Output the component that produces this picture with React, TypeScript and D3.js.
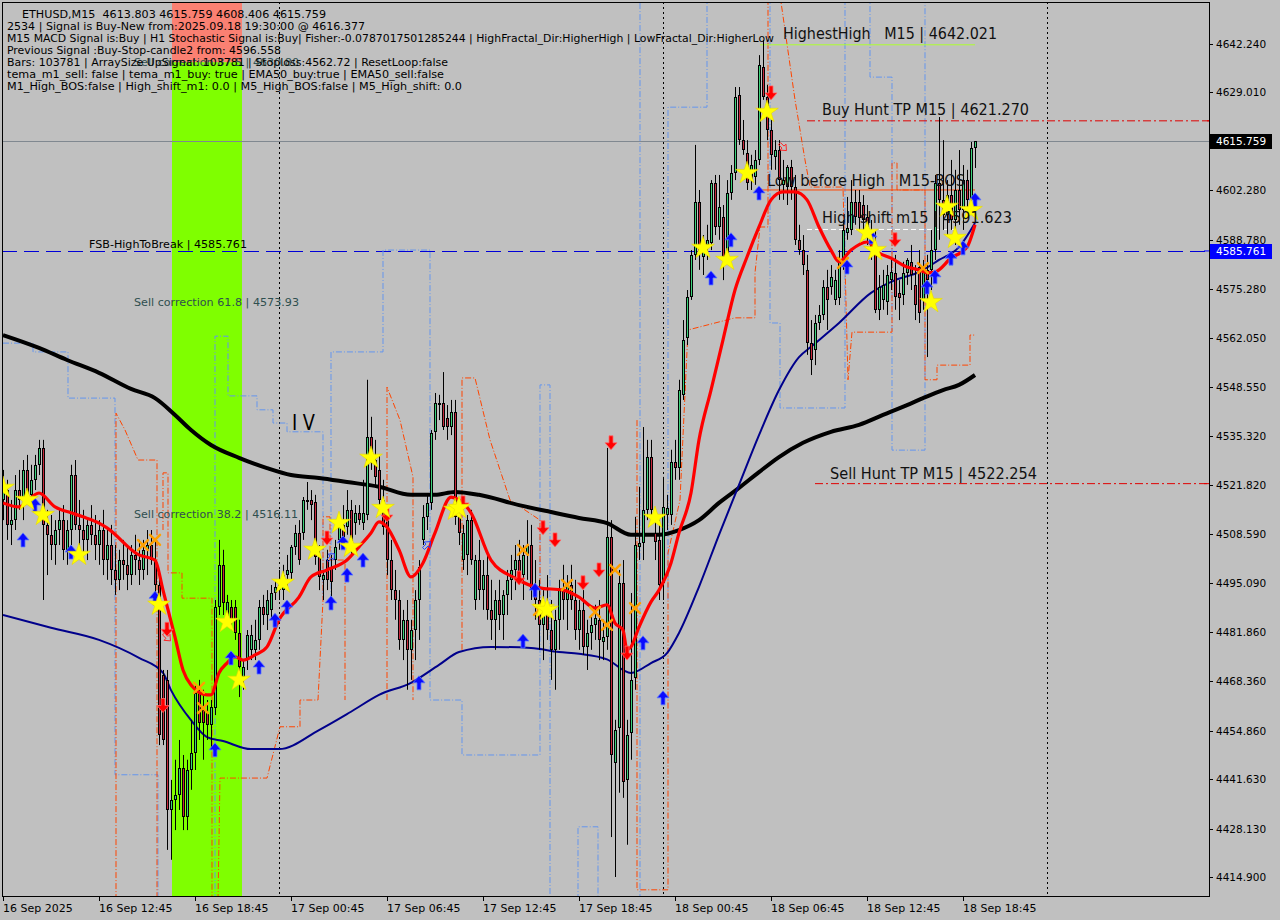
import React from "react";
import * as d3 from "d3";

// ---------------- DATA ----------------
// OHLC per M15 bar, bar 0 = 16 Sep 06:45, bar 243 = 18 Sep 19:30
const candles: number[][] = [
  [4517.8,4526.0,4512.3,4520.5],[4520.5,4523.3,4506.9,4511.0],[4511.0,4517.8,4505.5,4512.3],[4512.3,4524.6,4509.6,4520.5],[4520.5,4526.0,4515.1,4517.8],
  [4517.8,4528.7,4512.3,4526.0],[4526.0,4530.1,4517.8,4519.2],[4519.2,4527.4,4516.4,4523.3],[4523.3,4530.1,4520.5,4527.4],[4527.4,4534.2,4524.6,4532.0],
  [4532.0,4534.2,4490.5,4511.0],[4511.0,4515.1,4497.3,4508.3],[4508.3,4513.7,4501.4,4505.5],[4505.5,4512.3,4500.1,4509.6],[4509.6,4515.1,4505.5,4512.3],
  [4512.3,4516.4,4501.4,4504.2],[4504.2,4512.3,4500.1,4509.6],[4509.6,4527.4,4505.5,4524.6],[4524.6,4528.7,4509.6,4511.0],[4511.0,4517.8,4505.5,4509.6],
  [4509.6,4515.1,4502.8,4506.9],[4506.9,4512.3,4501.4,4511.0],[4511.0,4516.4,4505.5,4508.3],[4508.3,4513.7,4501.4,4505.5],[4505.5,4512.3,4500.1,4509.6],
  [4509.6,4515.1,4497.3,4501.4],[4501.4,4509.6,4496.0,4505.5],[4505.5,4511.0,4494.6,4498.7],[4498.7,4505.5,4491.9,4496.0],[4496.0,4504.2,4493.2,4501.4],
  [4501.4,4506.9,4496.0,4500.1],[4500.1,4505.5,4493.2,4497.3],[4497.3,4505.5,4494.6,4502.8],[4502.8,4508.3,4497.3,4501.4],[4501.4,4506.9,4494.6,4498.7],
  [4498.7,4506.9,4496.0,4504.2],[4504.2,4509.6,4497.3,4505.5],[4505.5,4509.6,4500.1,4501.4],[4501.4,4506.9,4490.5,4494.6],[4494.6,4497.3,4450.9,4453.7],
  [4470.1,4471.4,4450.9,4452.3],[4468.7,4471.4,4422.3,4433.2],[4433.2,4441.4,4419.6,4435.9],[4435.9,4446.9,4427.7,4437.3],[4437.3,4452.3,4433.2,4444.7],
  [4444.7,4448.2,4427.7,4431.3],[4431.3,4446.9,4427.7,4444.1],[4444.1,4457.8,4438.7,4448.8],[4448.8,4467.3,4444.1,4465.1],[4465.1,4468.7,4452.3,4457.0],
  [4460.5,4466.0,4446.9,4457.0],[4459.7,4463.2,4452.3,4456.4],[4456.4,4463.2,4449.6,4461.3],[4461.0,4490.5,4459.1,4488.6],[4488.6,4506.9,4486.4,4500.1],
  [4500.1,4504.2,4486.4,4489.7],[4485.6,4491.9,4483.7,4490.0],[4488.6,4490.5,4482.3,4485.1],[4488.6,4490.5,4479.6,4481.5],[4481.5,4485.1,4464.0,4472.2],
  [4469.5,4474.1,4466.0,4472.2],[4474.1,4482.3,4471.4,4481.0],[4476.9,4483.7,4474.1,4481.0],[4476.9,4485.1,4474.1,4479.6],[4479.6,4490.5,4476.9,4488.6],
  [4488.6,4491.9,4483.7,4486.4],[4486.4,4493.2,4482.3,4490.5],[4487.8,4494.6,4485.1,4492.4],[4492.4,4496.0,4490.5,4494.1],[4494.6,4498.7,4490.5,4493.2],
  [4493.2,4500.1,4490.5,4497.3],[4497.3,4502.8,4493.2,4498.7],[4497.9,4505.5,4496.0,4505.0],[4505.0,4511.0,4502.8,4508.8],[4508.8,4512.3,4500.1,4501.4],
  [4508.8,4518.6,4506.9,4517.8],[4517.3,4522.7,4515.1,4517.8],[4517.8,4520.5,4512.3,4516.4],[4517.3,4519.2,4500.1,4502.3],[4502.3,4505.5,4493.2,4496.8],
  [4496.0,4498.7,4490.5,4497.3],[4501.4,4504.2,4493.2,4496.0],[4499.5,4502.8,4490.5,4495.4],[4501.4,4506.9,4498.7,4505.0],[4506.9,4512.3,4504.2,4510.4],
  [4511.0,4516.4,4505.5,4506.9],[4510.4,4520.5,4508.3,4515.1],[4515.1,4517.8,4502.8,4505.0],[4511.5,4516.4,4508.3,4514.3],[4514.3,4516.4,4511.0,4512.3],
  [4511.5,4523.3,4509.6,4514.3],[4513.7,4550.6,4512.3,4535.0],[4535.0,4540.5,4526.0,4527.9],[4528.7,4534.2,4521.9,4524.1],[4526.0,4530.1,4515.1,4517.8],
  [4517.8,4523.3,4508.3,4510.4],[4512.3,4516.4,4497.3,4501.4],[4501.4,4506.9,4490.5,4493.2],[4493.2,4498.7,4485.1,4490.5],[4490.5,4493.2,4476.9,4479.6],
  [4479.6,4487.8,4474.1,4485.1],[4485.1,4490.5,4466.0,4476.9],[4476.9,4485.1,4468.7,4482.3],[4482.3,4493.2,4474.1,4490.5],[4490.5,4501.4,4479.6,4499.5],
  [4506.9,4516.4,4505.5,4513.2],[4513.2,4519.2,4509.6,4517.0],[4517.0,4536.9,4515.1,4536.1],[4536.4,4547.0,4534.2,4544.3],[4543.7,4546.5,4539.6,4544.3],
  [4544.3,4552.7,4536.9,4537.7],[4540.2,4543.7,4534.2,4537.7],[4537.7,4545.1,4535.5,4541.8],[4541.8,4545.1,4511.0,4513.2],[4513.2,4516.4,4505.5,4508.8],
  [4501.4,4511.0,4498.7,4508.8],[4502.8,4513.7,4497.3,4512.3],[4512.3,4515.1,4500.1,4501.4],[4490.5,4502.8,4487.8,4501.4],[4501.4,4506.9,4490.5,4493.2],
  [4493.2,4501.4,4487.8,4497.3],[4497.3,4502.8,4485.1,4487.8],[4487.8,4496.0,4479.6,4485.1],[4485.1,4493.2,4476.9,4490.5],[4490.5,4496.0,4482.3,4486.4],
  [4486.4,4493.2,4479.6,4491.9],[4491.9,4498.7,4486.4,4496.0],[4496.0,4502.8,4490.5,4498.7],[4498.7,4505.5,4493.2,4501.4],[4501.4,4506.9,4494.6,4497.3],
  [4497.3,4505.5,4490.5,4502.8],[4502.8,4512.3,4496.0,4505.5],[4505.5,4511.0,4490.5,4493.2],[4493.2,4501.4,4485.1,4490.5],[4490.5,4496.0,4476.9,4483.7],
  [4483.7,4493.2,4474.1,4489.2],[4489.2,4497.3,4479.6,4482.3],[4482.3,4490.5,4468.7,4476.9],[4476.9,4487.8,4466.0,4485.1],[4485.1,4496.0,4476.9,4493.2],
  [4493.2,4500.1,4485.1,4490.5],[4490.5,4497.3,4482.3,4494.6],[4494.6,4500.1,4487.8,4490.5],[4490.5,4496.0,4479.6,4482.3],[4482.3,4490.5,4476.9,4487.8],
  [4487.8,4493.2,4475.5,4477.7],[4477.7,4485.1,4471.4,4481.5],[4481.5,4486.4,4476.9,4483.7],[4483.7,4489.2,4479.6,4485.6],[4485.1,4490.5,4474.1,4479.6],
  [4479.1,4485.1,4474.1,4480.4],[4480.4,4532.0,4476.9,4507.7],[4507.7,4512.3,4425.8,4448.2],[4446.0,4457.8,4414.9,4455.0],[4455.6,4498.7,4437.9,4495.2],
  [4495.2,4501.4,4436.5,4440.9],[4441.4,4457.8,4423.7,4453.7],[4454.2,4492.4,4446.9,4468.7],[4469.2,4513.2,4466.0,4505.5],[4505.0,4521.4,4501.4,4506.1],
  [4506.1,4537.7,4501.4,4515.1],[4515.1,4534.2,4512.3,4529.5],[4529.5,4534.2,4512.3,4515.1],[4508.8,4515.1,4501.4,4506.3],[4506.9,4512.3,4490.5,4494.6],
  [4495.2,4524.1,4490.5,4515.9],[4513.7,4519.2,4509.6,4515.6],[4513.7,4531.5,4511.0,4528.2],[4528.2,4534.2,4523.3,4526.5],[4526.5,4550.6,4523.3,4547.8],
  [4546.5,4566.9,4545.1,4561.5],[4562.0,4575.1,4560.1,4573.2],[4573.2,4586.0,4572.4,4584.7],[4584.7,4614.7,4583.3,4599.1],[4599.1,4602.4,4580.6,4585.2],
  [4584.1,4590.1,4579.2,4587.9],[4587.4,4592.9,4583.3,4588.8],[4587.9,4605.1,4586.0,4604.3],[4604.3,4606.5,4590.1,4592.3],[4592.3,4606.5,4588.8,4597.8],
  [4595.0,4598.3,4577.8,4584.1],[4585.2,4605.1,4582.8,4601.6],[4601.6,4609.2,4599.7,4607.0],[4607.0,4630.5,4605.1,4627.8],[4628.3,4630.5,4614.7,4616.0],
  [4616.0,4621.5,4612.0,4613.3],[4612.5,4616.0,4602.4,4604.3],[4605.1,4612.0,4602.4,4609.2],[4606.0,4613.3,4603.8,4610.6],[4610.6,4639.2,4609.2,4636.5],
  [4636.0,4643.3,4627.0,4627.8],[4627.8,4631.1,4616.0,4618.8],[4618.8,4621.5,4607.9,4612.0],[4611.4,4616.0,4607.9,4613.3],[4613.3,4616.0,4599.7,4605.1],
  [4603.8,4610.6,4599.7,4605.1],[4603.2,4609.2,4598.3,4608.7],[4608.7,4610.6,4599.7,4603.2],[4603.2,4606.5,4587.4,4588.8],[4588.8,4592.9,4584.7,4586.0],
  [4586.0,4590.1,4579.2,4581.9],[4580.6,4584.7,4557.4,4560.6],[4560.6,4566.9,4551.9,4556.0],[4558.7,4568.3,4554.6,4566.1],[4566.1,4571.0,4564.2,4568.3],
  [4568.3,4577.8,4566.9,4575.9],[4575.9,4580.6,4564.2,4572.4],[4575.9,4581.9,4573.8,4578.7],[4572.4,4580.6,4571.0,4577.8],[4572.9,4586.0,4571.0,4583.3],
  [4582.8,4594.2,4580.6,4591.5],[4590.7,4600.5,4588.8,4592.0],[4591.5,4605.1,4590.1,4599.1],[4599.1,4602.4,4592.9,4595.0],[4599.1,4602.4,4591.5,4594.8],
  [4598.3,4601.0,4588.8,4594.2],[4595.0,4598.3,4587.4,4590.7],[4590.9,4594.2,4583.3,4586.8],[4586.8,4591.5,4568.8,4569.7],[4569.7,4579.2,4566.9,4575.9],
  [4572.4,4580.6,4569.7,4576.5],[4571.8,4581.9,4568.3,4579.2],[4577.8,4583.3,4575.1,4580.0],[4579.8,4584.7,4569.7,4573.2],[4574.3,4577.8,4566.9,4572.9],
  [4573.8,4582.8,4571.0,4579.8],[4579.8,4583.8,4576.5,4583.3],[4582.8,4587.4,4575.1,4579.2],[4576.5,4581.9,4566.9,4571.0],[4581.4,4586.0,4566.1,4568.8],
  [4572.4,4583.3,4569.7,4581.4],[4580.6,4584.7,4556.8,4577.8],[4580.6,4591.5,4575.1,4586.0],[4586.0,4606.5,4583.3,4604.3],[4604.3,4622.3,4588.8,4599.7],
  [4599.7,4616.0,4591.5,4595.6],[4595.6,4605.1,4590.1,4601.0],[4601.0,4610.6,4591.5,4594.2],[4594.2,4607.9,4587.4,4602.4],[4602.4,4613.3,4592.9,4596.9],
  [4596.9,4609.2,4591.5,4605.1],[4605.1,4607.9,4595.6,4599.7],[4599.7,4615.5,4598.3,4613.8],[4613.803,4615.759,4608.406,4615.759],
];

// moving averages [bar, price]
const ema200: number[][] = [[0,4562.8],[9,4559.3],[16,4556.0],[24,4552.5],[32,4548.1],[38,4545.6],[43,4541.0],[47,4536.9],[52,4532.8],[59,4529.3],[66,4526.5],[72,4524.6],[79,4523.8],[86,4522.7],[94,4521.4],[102,4519.2],[108,4519.2],[113,4520.0],[119,4519.2],[129,4516.4],[137,4514.5],[144,4512.9],[151,4511.5],[157,4508.3],[164,4508.3],[169,4509.6],[174,4512.3],[179,4517.0],[184,4521.1],[189,4525.4],[194,4529.5],[200,4533.4],[207,4536.4],[214,4538.3],[220,4541.0],[226,4543.7],[230,4545.6],[235,4547.8],[239,4549.2],[243,4551.9]];
const ema50: number[][] = [[0,4486.4],[12,4482.9],[24,4479.6],[34,4474.7],[40,4470.6],[42,4465.9],[47,4457.7],[51,4453.1],[55,4452.0],[62,4449.8],[69,4449.8],[79,4455.0],[87,4460.0],[94,4464.6],[102,4467.9],[109,4472.8],[114,4476.3],[122,4477.7],[132,4477.4],[139,4476.3],[144,4475.8],[151,4474.3],[157,4470.6],[162,4473.3],[166,4476.0],[169,4481.5],[174,4494.1],[179,4508.3],[184,4521.9],[189,4535.5],[194,4547.8],[199,4556.8],[202,4559.6],[209,4566.1],[217,4574.3],[223,4577.8],[229,4580.0],[234,4583.3],[239,4586.8],[243,4593.4]];
const tema: number[][] = [[0,4517.0],[4,4515.9],[9,4519.7],[13,4515.9],[17,4514.3],[20,4513.2],[24,4511.5],[26,4510.2],[34,4502.8],[38,4501.4],[40,4493.2],[43,4480.4],[45,4471.4],[47,4467.3],[51,4464.6],[52,4464.6],[54,4470.6],[56,4473.3],[58,4475.0],[60,4474.1],[63,4475.5],[66,4477.7],[69,4485.1],[74,4491.3],[77,4496.8],[81,4498.7],[86,4501.4],[89,4505.0],[92,4508.8],[94,4511.8],[96,4510.4],[99,4504.2],[102,4496.8],[105,4500.6],[108,4508.8],[112,4518.6],[114,4517.8],[117,4514.3],[122,4501.4],[128,4496.5],[134,4493.8],[140,4493.2],[144,4491.3],[148,4488.3],[151,4489.2],[153,4484.2],[155,4482.3],[156,4476.9],[157,4477.7],[159,4483.1],[162,4490.0],[164,4493.2],[167,4500.6],[169,4508.8],[172,4519.7],[174,4534.2],[177,4547.8],[180,4561.5],[183,4575.1],[186,4584.1],[189,4592.3],[192,4599.7],[195,4601.9],[198,4601.9],[201,4599.7],[204,4592.3],[207,4586.0],[209,4582.8],[212,4586.0],[216,4588.2],[219,4585.2],[222,4583.8],[226,4581.4],[229,4580.6],[231,4579.8],[233,4580.0],[237,4583.8],[241,4586.8],[243,4592.9]];

// stepped channel lines (vertices [bar, price])
const blueSteps: number[][][] = [
  [[0,4560.6],[7.5,4560.6],[7.5,4558.2],[16.25,4558.2],[16.25,4545.6],[28,4545.6],[28,4442.8],[38.75,4442.8],[38.75,4408.6]],
  [[53,4408.6],[53,4562.5],[56.25,4562.5],[56.25,4546.2],[63.5,4546.2],[63.5,4542.4],[67.5,4542.4],[67.5,4538.8],[71,4538.8],[71,4536.4],[80,4536.4],[80,4490.5]],
  [[82,4490.5],[82,4558.2],[95,4558.2],[95,4586.0],[106.75,4586.0],[106.75,4463.2],[114.75,4463.2],[114.75,4448.2],[134.25,4448.2],[134.25,4549.2],[136.75,4549.2],[136.75,4408.6]],
  [[143.75,4408.6],[143.75,4428.6],[148.75,4428.6],[148.75,4408.6]],
  [[159.25,4408.6],[159.25,4655.6]],
  [[166.25,4490.5],[166.25,4625.0],[176,4625.0],[176,4655.6]],
  [[191.75,4655.6],[191.75,4566.1],[194.25,4566.1],[194.25,4542.9],[210.5,4542.9],[210.5,4655.6]],
  [[216.75,4655.6],[216.75,4633.2],[222.25,4633.2],[222.25,4531.4],[230.5,4531.4],[230.5,4655.6]],
];
const orangeSteps: number[][][] = [
  [[28.25,4408.6],[28.25,4541.5],[30.5,4536.9],[33.75,4528.7],[38.5,4528.7],[38.5,4408.6]],
  [[40,4509.6],[40,4525.2],[41.25,4525.2],[41.25,4497.9],[44.75,4497.9],[44.75,4491.0],[52.25,4491.0],[52.25,4408.6]],
  [[53.75,4408.6],[54.25,4441.9],[66,4441.9],[69.25,4455.9],[74.25,4455.9],[74.25,4463.2],[78.75,4463.2],[80,4490.5],[80,4513.2],[81.75,4513.2],[81.75,4501.4],[85.5,4501.4],[85.5,4463.2]],
  [[96,4463.2],[96,4548.6],[99.25,4539.6],[102.5,4524.1],[102.5,4463.2]],
  [[114.75,4476.9],[114.75,4551.1],[118,4551.1],[121.75,4534.2],[126.75,4517.8],[134.25,4512.3],[134.25,4490.5]],
  [[158.5,4539.6],[158.5,4411.4],[166.25,4411.4],[166.25,4503.3],[169.25,4517.8],[171.25,4564.2],[183,4567.5],[188,4567.5],[188,4579.8],[189.25,4592.3],[191.25,4592.3],[191.25,4655.6]],
  [[194.25,4655.6],[198,4627.0],[200.5,4610.6],[201.75,4603.2],[210,4603.2],[211.25,4550.6],[212.25,4563.6],[222.25,4563.6],[222.25,4609.8],[223.5,4609.8],[223.5,4602.4],[230.5,4602.4],[230.5,4550.6],[233.5,4550.6],[233.5,4554.6],[241.75,4554.6],[241.75,4562.8],[243,4562.8]],
];

// signal markers [bar, price]
const stars: number[][] = [[0,4521.1],[6,4517.8],[10,4513.7],[19,4502.8],[39,4489.2],[56,4484.5],[59,4468.7],[70,4495.2],[78,4504.2],[84,4511.5],[87,4505.0],[92,4529.3],[95,4515.6],[113,4515.1],[114,4515.6],[135,4488.3],[136,4487.8],[163,4512.9],[175,4586.6],[181,4583.3],[186,4607.0],[191,4623.7],[216,4590.7],[218,4586.0],[232,4571.8],[236,4597.8],[238,4589.3],[242,4596.9]];
const upArrows: number[][] = [[5,4506.9],[8,4516.4],[17,4503.6],[38,4491.0],[53,4449.6],[57,4474.7],[64,4472.2],[68,4485.0],[71,4488.6],[82,4489.7],[85,4506.1],[86,4497.3],[90,4501.4],[104,4467.9],[130,4479.3],[133,4493.2],[160,4478.8],[165,4463.8],[177,4578.4],[182,4588.8],[189,4601.6],[211,4581.4],[217,4589.6],[231,4575.9],[233,4578.7],[237,4583.8],[240,4586.6],[243,4599.7]];
const downArrows: number[][] = [[40,4461.7],[41,4482.5],[81,4507.4],[96,4513.7],[115,4517.0],[129,4496.5],[135,4510.2],[138,4506.9],[145,4495.2],[149,4498.7],[152,4533.4],[156,4476.0],[192,4628.9],[223,4588.8]];
const crosses: number[][] = [[35,4505.5],[38,4506.9],[49,4466.5],[50,4461.0],[130,4504.2],[134,4487.8],[141,4494.6],[148,4487.2],[151,4483.7],[153,4498.7],[158,4488.3],[210,4582.5],[230,4581.1]];
const hollowRed: number[][] = [[41,4480.3],[195,4614.1]];
const hollowBlue: number[][] = [[82,4502.2],[106,4505.5]];

// levels
const currentPrice = 4615.759;
const fsbHigh = 4585.761;
const buyHuntTP = 4621.270;
const sellHuntTP = 4522.254;
const highestHigh = 4642.021;
const lowBeforeHigh = 4602.4;
const highShift = 4591.623;
const sellCorr618 = 4573.93;
const sellCorr382 = 4516.11;
const sellCorr875 = 4637.3;
const bandBars = [42.25, 59.75];
const daySeparators = [69, 165, 261];

// axes
const priceTicks = [4642.240,4629.010,4602.280,4588.780,4575.280,4562.050,4548.550,4535.320,4521.820,4508.590,4495.090,4481.860,4468.360,4454.860,4441.630,4428.130,4414.900];
const timeTickBars = [0,24,48,72,96,120,144,168,192,216,240];
const timeLabels = ["16 Sep 2025","16 Sep 12:45","16 Sep 18:45","17 Sep 00:45","17 Sep 06:45","17 Sep 12:45","17 Sep 18:45","18 Sep 00:45","18 Sep 06:45","18 Sep 12:45","18 Sep 18:45"];

const infoLines = [
  "ETHUSD,M15  4613.803 4615.759 4608.406 4615.759",
  "2534 | Signal is Buy-New from:2025.09.18 19:30:00 @ 4616.377",
  "M15 MACD Signal is:Buy | H1 Stochastic Signal is:Buy| Fisher:-0.0787017501285244 | HighFractal_Dir:HigherHigh | LowFractal_Dir:HigherLow",
  "Previous Signal :Buy-Stop-candle2 from: 4596.558",
  "Bars: 103781 | ArraySize UpSignal: 103781 | Stoploss:4562.72 | ResetLoop:false",
  "tema_m1_sell: false | tema_m1_buy: true | EMA50_buy:true | EMA50_sell:false",
  "M1_High_BOS:false | High_shift_m1: 0.0 | M5_High_BOS:false | M5_High_shift: 0.0",
];
const infoX = [22, 7, 7, 7, 7, 7, 7];
const infoW = [304, 358, 767, 274, 441, 437, 455];

// ---------------- CHART ----------------
const FONT = "'DejaVu Sans', Tahoma, sans-serif";
const BG = "#c0c0c0";

export default function App() {
  const W = 1280, H = 920;
  const L = 2, R = 1209, T = 2, B = 896;
  const x = d3.scaleLinear().domain([0, 243]).range([3, 975]);
  const y = d3.scaleLinear().domain([4414.9, 4642.24]).range([877, 44]);
  const smooth = d3.line<number[]>().x(d => x(d[0])).y(d => y(d[1])).curve(d3.curveMonotoneX);
  const poly = d3.line<number[]>().x(d => x(d[0])).y(d => y(d[1]));
  const starPath = d3.symbol().type(d3.symbolStar).size(160)() as string;
  const upPath = "M0,-7 L6,0 L2,0 L2,7 L-2,7 L-2,0 L-6,0 Z";
  const downPath = "M0,7 L6,0 L2,0 L2,-7 L-2,-7 L-2,0 L-6,0 Z";

  const labelText = (txt: string, bx: number, py: number, w: number, dy: number, size = 16, fill = "#111") => (
    <text x={x(bx)} y={y(py) + dy} fontSize={size} fill={fill} fontFamily={FONT}
      textLength={w} lengthAdjust="spacingAndGlyphs" style={{ whiteSpace: "pre" }}>{txt}</text>
  );

  return (
    <svg width={W} height={H} style={{ position: "absolute", left: 0, top: 0, background: BG }}>
      <defs>
        <clipPath id="plot"><rect x={L + 1} y={T + 1} width={R - L - 1} height={B - T - 1} /></clipPath>
      </defs>
      <rect x={0} y={0} width={W} height={H} fill={BG} />
      <g clipPath="url(#plot)">
        {/* highlight band */}
        <rect x={x(bandBars[0])} y={y(sellCorr875)} width={x(bandBars[1]) - x(bandBars[0])} height={B - y(sellCorr875)} fill="#7fff00" />
        <rect x={x(bandBars[0])} y={0} width={x(bandBars[1]) - x(bandBars[0])} height={y(sellCorr875)} fill="#fa8072" />

        {/* day separators */}
        {daySeparators.map((b, k) => (
          <line key={k} x1={Math.round(x(b)) + 0.5} x2={Math.round(x(b)) + 0.5} y1={T} y2={B} stroke="#000" strokeDasharray="2,3" strokeWidth={1} />
        ))}

        {/* current price line */}
        <line x1={L} x2={R} y1={Math.round(y(currentPrice)) + 0.5} y2={Math.round(y(currentPrice)) + 0.5} stroke="#808890" strokeWidth={1} />
        {/* FSB high to break */}
        <line x1={L} x2={R} y1={Math.round(y(fsbHigh)) + 0.5} y2={Math.round(y(fsbHigh)) + 0.5} stroke="#0000d8" strokeWidth={1} strokeDasharray="15,7" />

        {/* stepped channel lines */}
        {blueSteps.map((s, k) => (
          <path key={"b" + k} d={poly(s) || ""} fill="none" stroke="#6495ed" strokeWidth={1} strokeDasharray="6,2,1,2" />
        ))}
        {orangeSteps.map((s, k) => (
          <path key={"o" + k} d={poly(s) || ""} fill="none" stroke="#ff4500" strokeWidth={1} strokeDasharray="6,2,1,2" />
        ))}

        {/* level lines */}
        <line x1={x(201)} x2={R} y1={y(buyHuntTP)} y2={y(buyHuntTP)} stroke="#e00000" strokeWidth={1} strokeDasharray="8,3,2,3" />
        <line x1={x(203)} x2={R} y1={y(sellHuntTP)} y2={y(sellHuntTP)} stroke="#e00000" strokeWidth={1} strokeDasharray="8,3,2,3" />
        <line x1={x(189.25)} x2={x(243)} y1={y(highestHigh)} y2={y(highestHigh)} stroke="#adff2f" strokeWidth={1} />
        <line x1={x(189.25)} x2={x(243)} y1={y(lowBeforeHigh)} y2={y(lowBeforeHigh)} stroke="#ff4500" strokeWidth={1} />
        <line x1={x(201)} x2={x(239)} y1={y(highShift)} y2={y(highShift)} stroke="#ffffff" strokeWidth={1} strokeDasharray="5,3" />

        {/* moving averages */}
        <path d={smooth(ema200) || ""} fill="none" stroke="#000" strokeWidth={4} />
        <path d={smooth(ema50) || ""} fill="none" stroke="#00008b" strokeWidth={2} />

        {/* candles */}
        {candles.map((c, i) => {
          const cx = Math.round(x(i));
          const [o, h, l, cl] = c;
          const top = Math.round(y(Math.max(o, cl)));
          const bot = Math.round(y(Math.min(o, cl)));
          const up = cl >= o;
          return (
            <g key={i}>
              <line x1={cx + 0.5} x2={cx + 0.5} y1={y(h)} y2={y(l)} stroke="#000" strokeWidth={1} />
              <rect x={cx - 1} y={top} width={3} height={Math.max(1, bot - top)} fill="#000" />
              {bot - top > 2 && <rect x={cx} y={top + 1} width={1} height={bot - top - 2} fill={up ? "#3cd27a" : "#c8283c"} />}
            </g>
          );
        })}

        {/* TEMA red line */}
        <path d={smooth(tema) || ""} fill="none" stroke="#ff0000" strokeWidth={3.2} />

        {/* markers */}
        {crosses.map((p, k) => (
          <g key={"x" + k} transform={`translate(${x(p[0])},${y(p[1])})`} stroke="#ffa000" strokeWidth={2.5} strokeLinecap="round">
            <line x1={-5} y1={-5} x2={5} y2={5} />
            <line x1={-5} y1={5} x2={5} y2={-5} />
          </g>
        ))}
        {hollowRed.map((p, k) => (
          <path key={"hr" + k} transform={`translate(${x(p[0])},${y(p[1])}) rotate(135) scale(0.7)`} d={upPath} fill="none" stroke="#ff2020" strokeWidth={1.3} />
        ))}
        {hollowBlue.map((p, k) => (
          <path key={"hb" + k} transform={`translate(${x(p[0])},${y(p[1])}) rotate(45) scale(0.7)`} d={upPath} fill="none" stroke="#2040ff" strokeWidth={1.3} />
        ))}
        {upArrows.map((p, k) => (
          <path key={"u" + k} transform={`translate(${x(p[0])},${y(p[1])})`} d={upPath} fill="#0a0aff" stroke="#5a78ff" strokeWidth={0.8} />
        ))}
        {downArrows.map((p, k) => (
          <path key={"d" + k} transform={`translate(${x(p[0])},${y(p[1])})`} d={downPath} fill="#ff0000" stroke="#ff6a6a" strokeWidth={0.8} />
        ))}
        {stars.map((p, k) => (
          <path key={"s" + k} transform={`translate(${x(p[0])},${y(p[1])})`} d={starPath} fill="#ffff00" stroke="#e8d800" strokeWidth={0.6} />
        ))}

        {/* chart labels */}
        {labelText("Sell correction 87.5 | 4630.80", 32.75, sellCorr875, 165, 4, 11, "#2f4f4f")}
        {labelText("Sell correction 61.8 | 4573.93", 32.75, sellCorr618, 165, 12, 11, "#2f4f4f")}
        {labelText("Sell correction 38.2 | 4516.11", 32.75, sellCorr382, 164, 12, 11, "#2f4f4f")}
        {labelText("FSB-HighToBreak | 4585.761", 21.5, fsbHigh, 158, -3, 11, "#000")}
        {labelText("I V", 72.25, 4539.1, 23, 8, 22, "#000")}
        {labelText("HighestHigh   M15 | 4642.021", 195, highestHigh, 214, -6)}
        {labelText("Buy Hunt TP M15 | 4621.270", 204.75, buyHuntTP, 207, -6)}
        {labelText("Low before High   M15-BOS", 191, lowBeforeHigh, 198, -4)}
        {labelText("High shift m15 | 4591.623", 204.75, highShift, 190, -6)}
        {labelText("Sell Hunt TP M15 | 4522.254", 206.75, sellHuntTP, 207, -5)}

        {/* info block */}
        {infoLines.map((t, k) => (
          <text key={"i" + k} x={infoX[k]} y={17.5 + 12 * k} fontSize={11} fill="#000" fontFamily={FONT}
            textLength={infoW[k]} lengthAdjust="spacingAndGlyphs" style={{ whiteSpace: "pre" }}>{t}</text>
        ))}
      </g>

      {/* frame */}
      <rect x={L + 0.5} y={T + 0.5} width={R - L} height={B - T} fill="none" stroke="#000" strokeWidth={1} />

      {/* price axis */}
      {priceTicks.map((p, k) => (
        <g key={"p" + k}>
          <line x1={R} x2={R + 4} y1={Math.round(y(p)) + 0.5} y2={Math.round(y(p)) + 0.5} stroke="#000" />
          <text x={1216} y={y(p) + 4} fontSize={10.5} fontFamily={FONT} fill="#000">{p.toFixed(3)}</text>
        </g>
      ))}
      <rect x={R + 1} y={Math.round(y(currentPrice)) - 7} width={62} height={15} fill="#000" />
      <text x={1216} y={y(currentPrice) + 4} fontSize={10.5} fontFamily={FONT} fill="#fff">{currentPrice.toFixed(3)}</text>
      <rect x={R + 1} y={Math.round(y(fsbHigh)) - 7} width={62} height={15} fill="#0000ff" />
      <text x={1216} y={y(fsbHigh) + 4} fontSize={10.5} fontFamily={FONT} fill="#fff">{fsbHigh.toFixed(3)}</text>
      <line x1={R - 5} x2={R} y1={y(fsbHigh)} y2={y(fsbHigh)} stroke="#0000ff" />
      <line x1={R - 5} x2={R} y1={y(buyHuntTP)} y2={y(buyHuntTP)} stroke="#e00000" />
      <line x1={R - 5} x2={R} y1={y(sellHuntTP)} y2={y(sellHuntTP)} stroke="#e00000" />

      {/* time axis */}
      {timeTickBars.map((b, k) => (
        <g key={"t" + k}>
          <line x1={Math.round(x(b)) + 0.5} x2={Math.round(x(b)) + 0.5} y1={B} y2={B + 5} stroke="#000" />
          <text x={x(b)} y={912} fontSize={11} fontFamily={FONT} fill="#000">{timeLabels[k]}</text>
        </g>
      ))}
    </svg>
  );
}
